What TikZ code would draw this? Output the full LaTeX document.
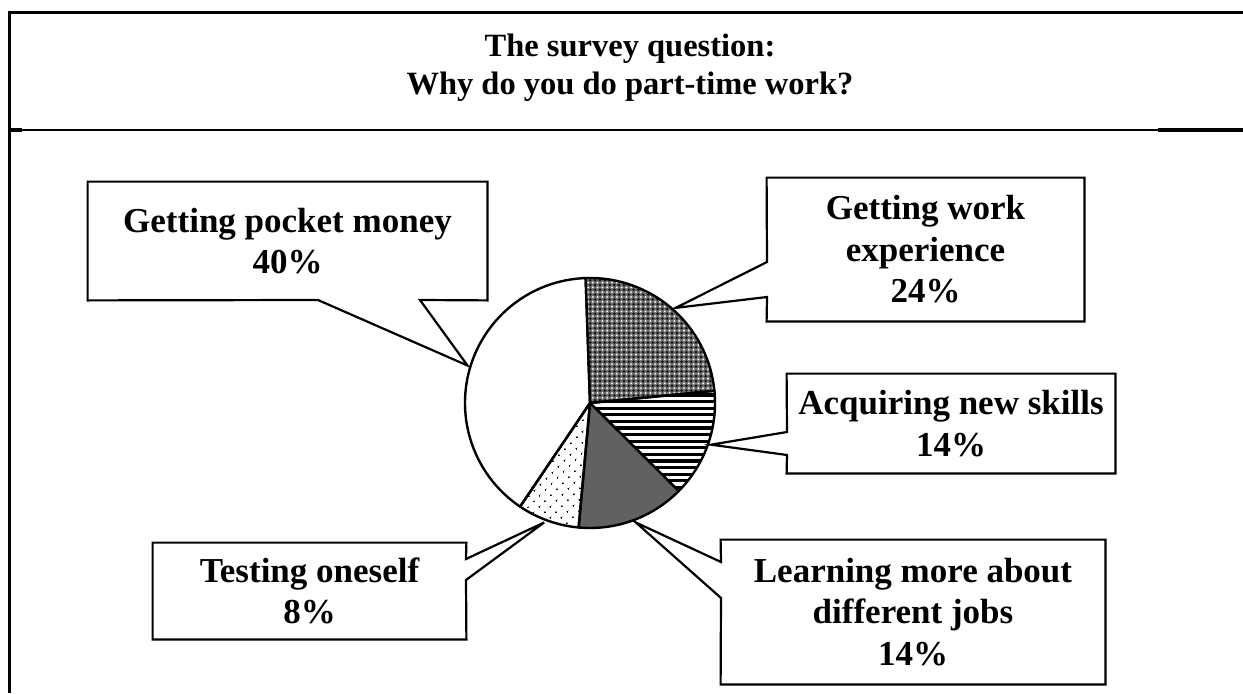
\documentclass[tikz,border=0pt]{standalone}
\usepackage{fontspec}
\setmainfont{Liberation Serif}
\usetikzlibrary{patterns.meta}
\tikzset{
  frameline/.style={draw=black, line width=1.5pt, line join=miter},
  titletext/.style={align=center, inner sep=0pt,
                    font={\fontsize{16.25}{19}\selectfont\bfseries}},
  callbox/.style={rectangle, align=center, inner sep=0pt,
                  font={\fontsize{17.5}{20.75}\selectfont\bfseries}},
  callout/.style={draw=black, line width=1.1pt, line join=miter},
  slice/.style={draw=black, line width=1.2pt, line join=round},
}

\begin{document}
\begin{tikzpicture}[x=0.5pt, y=0.5pt]
        \useasboundingbox (0,0) rectangle (1243,693);

        % Frame and title row
        \draw[frameline] (9,0) -- (9,681) -- (1243,681);
        \draw[line width=1pt] (9,563.5) -- (1243,563.5);
        \draw[line width=1.6pt] (1158,563) -- (1243,563);
        \draw[line width=1.6pt] (9,563) -- (22,563);
        \node[titletext] (title) at (630,625.5) {The survey question:\\Why do you do part-time work?};

        % Pie centre and pointer tips
        \coordinate (pie) at (590,290);
        \coordinate (pmtip) at ([shift={(163:128)}]pie);
        \coordinate (wetip) at ([shift={(48:128)}]pie);
        \coordinate (nstip) at ([shift={(-19:128)}]pie);
        \coordinate (totip) at ([shift={(-111:128)}]pie);
        \coordinate (ljtip) at ([shift={(-69:128)}]pie);

        % Callout boxes
        \node[callbox, minimum width=199.5pt, minimum height=59pt]
              (pocket) at (287.5,452) {Getting pocket money\\40\%};
        \draw[callout] (pocket.north west) -- (pocket.north east) -- (pocket.south east)
              -- (420,393) -- (pmtip) -- (318,393) -- (pocket.south west) -- cycle;

        \node[callbox, minimum width=158.5pt, minimum height=71.5pt]
              (work) at (925.5,443.5) {Getting work\\experience\\24\%};
        \draw[callout] (work.north west) -- (work.north east) -- (work.south east)
              -- (work.south west) -- (767,396) -- (wetip) -- (767,431) -- cycle;

        \node[callbox, minimum width=164pt, minimum height=49.5pt]
              (skills) at (951,269.5) {Acquiring new skills\\14\%};
        \draw[callout] (skills.north west) -- (skills.north east) -- (skills.south east)
              -- (skills.south west) -- (787,238) -- (nstip) -- (787,261) -- cycle;

        \node[callbox, minimum width=156.5pt, minimum height=48pt]
              (testing) at (309.5,102) {Testing oneself\\8\%};
        \draw[callout] (testing.north west) -- (testing.north east) -- (466,134)
              -- (totip) -- (466,113) -- (testing.south east) -- (testing.south west) -- cycle;

        \node[callbox, minimum width=192pt, minimum height=72pt]
              (jobs) at (913,81) {Learning more about\\different jobs\\14\%};
        \draw[callout] (jobs.north west) -- (jobs.north east) -- (jobs.south east)
              -- (jobs.south west) -- (721,95) -- (ljtip) -- (721,131) -- cycle;

        % Pie slices, clockwise from the top
        \draw[slice, fill=white] (pie) -- ++(92:125)
              arc[start angle=92, end angle=236, radius=125] -- cycle;
        \draw[slice, preaction={fill=black!58},
              preaction={pattern={Dots[distance=2.4pt, radius=.62pt]}, pattern color=black},
              pattern={Dots[distance=2.4pt, radius=.5pt, xshift=1.2pt, yshift=1.2pt]},
              pattern color=white] (pie) -- ++(92:125)
              arc[start angle=92, end angle=5.6, radius=125] -- cycle;
        \begin{scope}
          \clip (pie) -- ++(5.6:125) arc[start angle=5.6, end angle=-44.8, radius=125] -- cycle;
          \foreach \k in {0,...,15}
            \draw[line width=1.6pt] (580,{298-6.6*\k}) -- (730,{298-6.6*\k});
        \end{scope}
        \draw[slice] (pie) -- ++(5.6:125) arc[start angle=5.6, end angle=-44.8, radius=125] -- cycle;
        \draw[slice, fill=black!62] (pie) -- ++(-44.8:125)
              arc[start angle=-44.8, end angle=-95.2, radius=125] -- cycle;
        \draw[slice, pattern={Dots[distance=4pt, angle=45, radius=.55pt]}, pattern color=black]
              (pie) -- ++(-95.2:125) arc[start angle=-95.2, end angle=-124, radius=125] -- cycle;
      \end{tikzpicture}
\end{document}
